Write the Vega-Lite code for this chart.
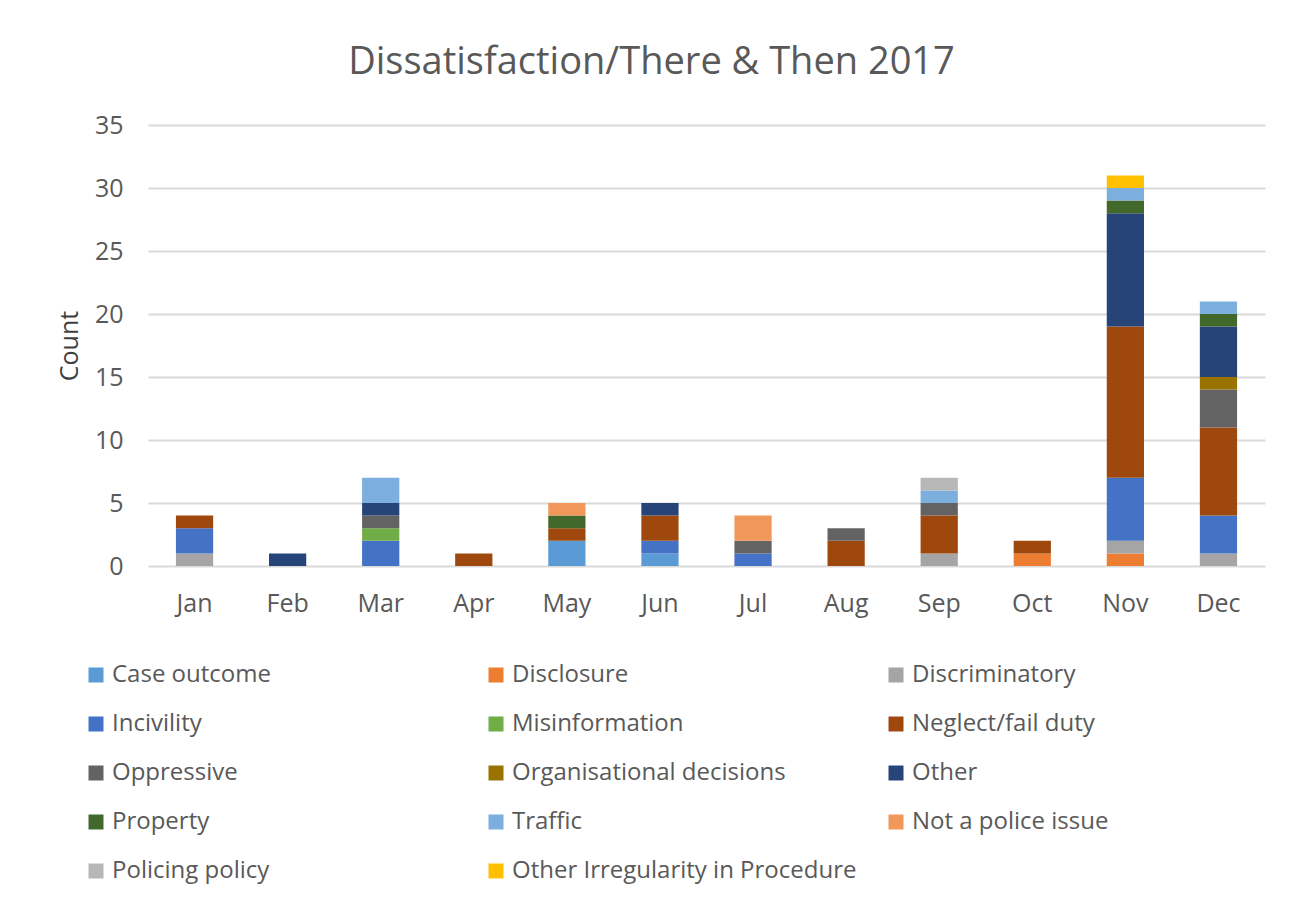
{
  "$schema": "https://vega.github.io/schema/vega-lite/v6.json",
  "width": 1117,
  "height": 441,
  "autosize": {"type": "none"},
  "padding": {"left": 148, "top": 125, "right": 34, "bottom": 338},
  "background": "white",
  "title": {"text": "Dissatisfaction/There & Then 2017", "font": "Open Sans", "fontSize": 38, "fontWeight": "normal", "color": "#595959", "offset": 31, "dx": -55, "anchor": "middle"},
  "data": {"values": [
    {"month": "Jan", "cat": "Discriminatory", "series": 3, "count": 1},
    {"month": "Jan", "cat": "Incivility", "series": 4, "count": 2},
    {"month": "Jan", "cat": "Neglect/fail duty", "series": 6, "count": 1},
    {"month": "Feb", "cat": "Other", "series": 9, "count": 1},
    {"month": "Mar", "cat": "Incivility", "series": 4, "count": 2},
    {"month": "Mar", "cat": "Misinformation", "series": 5, "count": 1},
    {"month": "Mar", "cat": "Oppressive", "series": 7, "count": 1},
    {"month": "Mar", "cat": "Other", "series": 9, "count": 1},
    {"month": "Mar", "cat": "Traffic", "series": 11, "count": 2},
    {"month": "Apr", "cat": "Neglect/fail duty", "series": 6, "count": 1},
    {"month": "May", "cat": "Case outcome", "series": 1, "count": 2},
    {"month": "May", "cat": "Neglect/fail duty", "series": 6, "count": 1},
    {"month": "May", "cat": "Property", "series": 10, "count": 1},
    {"month": "May", "cat": "Not a police issue", "series": 12, "count": 1},
    {"month": "Jun", "cat": "Case outcome", "series": 1, "count": 1},
    {"month": "Jun", "cat": "Incivility", "series": 4, "count": 1},
    {"month": "Jun", "cat": "Neglect/fail duty", "series": 6, "count": 2},
    {"month": "Jun", "cat": "Other", "series": 9, "count": 1},
    {"month": "Jul", "cat": "Incivility", "series": 4, "count": 1},
    {"month": "Jul", "cat": "Oppressive", "series": 7, "count": 1},
    {"month": "Jul", "cat": "Not a police issue", "series": 12, "count": 2},
    {"month": "Aug", "cat": "Neglect/fail duty", "series": 6, "count": 2},
    {"month": "Aug", "cat": "Oppressive", "series": 7, "count": 1},
    {"month": "Sep", "cat": "Discriminatory", "series": 3, "count": 1},
    {"month": "Sep", "cat": "Neglect/fail duty", "series": 6, "count": 3},
    {"month": "Sep", "cat": "Oppressive", "series": 7, "count": 1},
    {"month": "Sep", "cat": "Traffic", "series": 11, "count": 1},
    {"month": "Sep", "cat": "Policing policy", "series": 13, "count": 1},
    {"month": "Oct", "cat": "Disclosure", "series": 2, "count": 1},
    {"month": "Oct", "cat": "Neglect/fail duty", "series": 6, "count": 1},
    {"month": "Nov", "cat": "Disclosure", "series": 2, "count": 1},
    {"month": "Nov", "cat": "Discriminatory", "series": 3, "count": 1},
    {"month": "Nov", "cat": "Incivility", "series": 4, "count": 5},
    {"month": "Nov", "cat": "Neglect/fail duty", "series": 6, "count": 12},
    {"month": "Nov", "cat": "Other", "series": 9, "count": 9},
    {"month": "Nov", "cat": "Property", "series": 10, "count": 1},
    {"month": "Nov", "cat": "Traffic", "series": 11, "count": 1},
    {"month": "Nov", "cat": "Other Irregularity in Procedure", "series": 14, "count": 1},
    {"month": "Dec", "cat": "Discriminatory", "series": 3, "count": 1},
    {"month": "Dec", "cat": "Incivility", "series": 4, "count": 3},
    {"month": "Dec", "cat": "Neglect/fail duty", "series": 6, "count": 7},
    {"month": "Dec", "cat": "Oppressive", "series": 7, "count": 3},
    {"month": "Dec", "cat": "Organisational decisions", "series": 8, "count": 1},
    {"month": "Dec", "cat": "Other", "series": 9, "count": 4},
    {"month": "Dec", "cat": "Property", "series": 10, "count": 1},
    {"month": "Dec", "cat": "Traffic", "series": 11, "count": 1}
  ]},
  "mark": {"type": "bar"},
  "encoding": {
    "x": {
      "field": "month", "type": "nominal",
      "sort": ["Jan","Feb","Mar","Apr","May","Jun","Jul","Aug","Sep","Oct","Nov","Dec"],
      "scale": {"paddingInner": 0.6, "paddingOuter": 0.3},
      "axis": {"title": null, "labelAngle": 0, "labelFont": "Open Sans", "labelFontSize": 25, "labelColor": "#595959", "labelPadding": 25, "ticks": false, "domain": false}
    },
    "y": {
      "field": "count", "type": "quantitative", "stack": "zero",
      "scale": {"domain": [0, 35], "nice": false},
      "axis": {"title": "Count", "titleFont": "Open Sans", "titleFontSize": 25, "titleFontWeight": "normal", "titleColor": "#404040", "titlePadding": 12, "values": [0,5,10,15,20,25,30,35], "labelFont": "Open Sans", "labelFontSize": 25, "labelColor": "#595959", "labelPadding": 25, "ticks": false, "domain": false, "grid": true, "gridColor": "#D9D9D9", "gridWidth": 2}
    },
    "order": {"field": "series", "type": "quantitative", "sort": "ascending"},
    "color": {
      "field": "cat", "type": "nominal",
      "scale": {
        "domain": ["Case outcome","Disclosure","Discriminatory","Incivility","Misinformation","Neglect/fail duty","Oppressive","Organisational decisions","Other","Property","Traffic","Not a police issue","Policing policy","Other Irregularity in Procedure"],
        "range": ["#5B9BD5","#ED7D31","#A5A5A5","#4472C4","#70AD47","#9E480E","#636363","#997300","#264478","#43682B","#7CAFDD","#F1975A","#B7B7B7","#FFC000"]
      },
      "legend": {"title": null, "orient": "none", "direction": "horizontal", "legendX": -64, "legendY": 538, "columns": 3, "gridAlign": "all", "columnPadding": 27, "rowPadding": 25, "symbolType": "square", "symbolSize": 225, "symbolStrokeWidth": 0, "symbolOpacity": 1, "labelFont": "Open Sans", "labelFontSize": 24, "labelColor": "#595959", "labelOffset": 4, "labelLimit": 500}
    }
  },
  "config": {"view": {"stroke": null}}
}
